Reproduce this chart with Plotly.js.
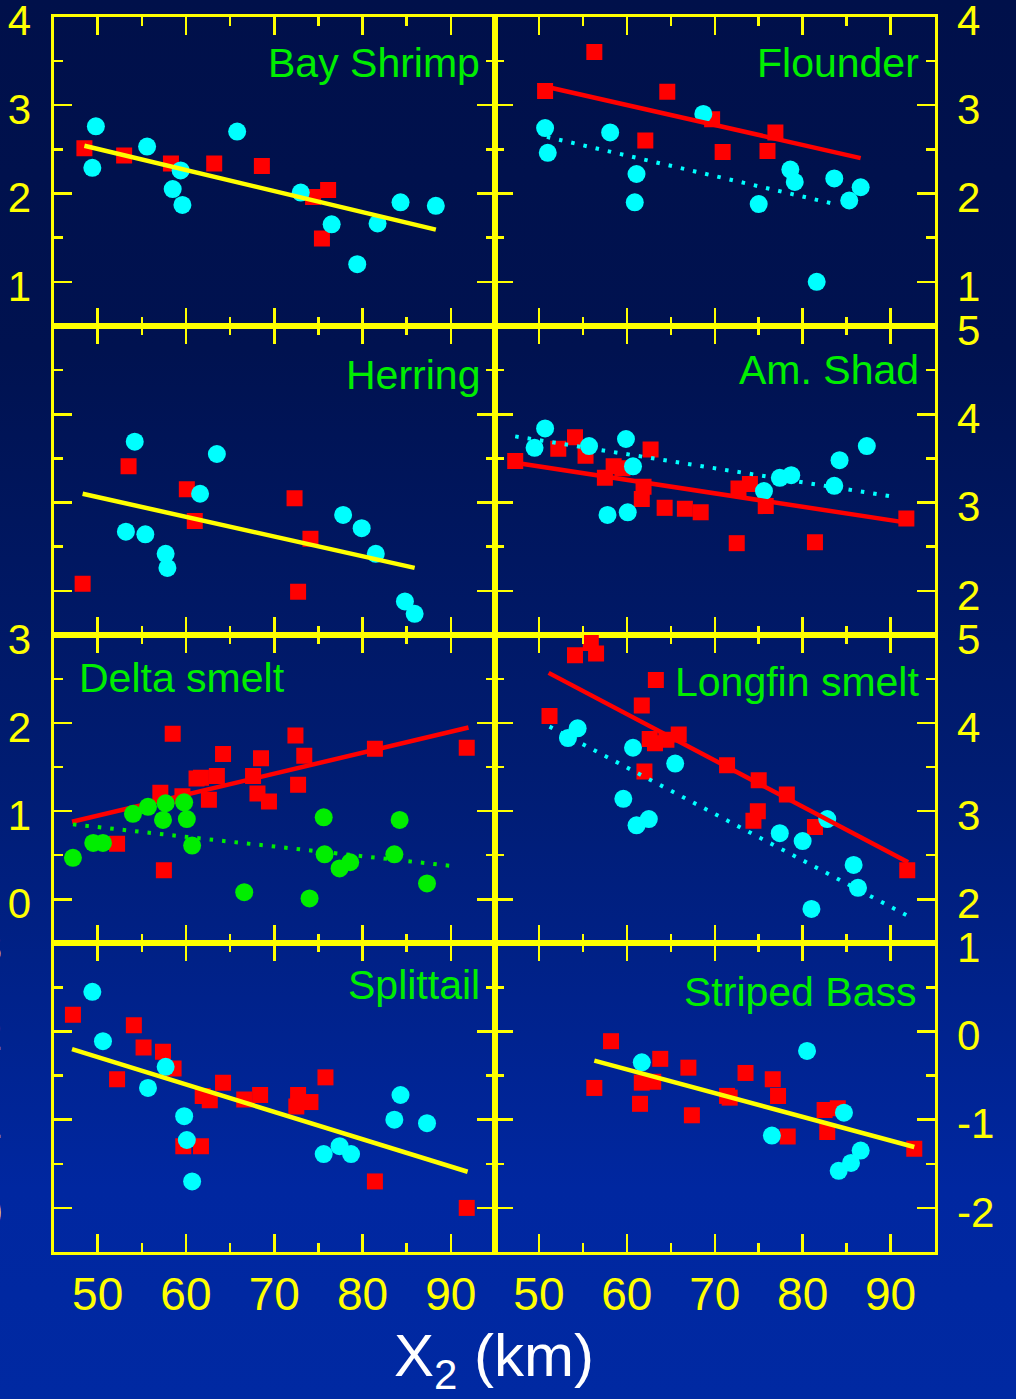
<!DOCTYPE html>
<html><head><meta charset="utf-8">
<script src="https://cdn.plot.ly/plotly-3.0.1.min.js"></script>
<style>
html,body{margin:0;padding:0;background:#00104a;}
#chart{width:1016px;height:1399px;background:linear-gradient(to bottom,#00104a 0%,#001250 25%,#001c72 55%,#0027a0 85%,#0029a2 100%);}
</style></head><body><div id="chart"></div>
<script>
// ---------------- DATA ----------------
const panelNames = ['Bay Shrimp','Flounder','Herring','Am. Shad','Delta smelt','Longfin smelt','Splittail','Striped Bass'];
const xTickLabels = ['50','60','70','80','90'];
const xTickVals = [50,60,70,80,90];

const bayShrimpRedX = [48.5,53.0,58.3,63.2,68.6,74.4,76.1,75.4];
const bayShrimpRedY = [2.51,2.43,2.34,2.34,2.31,1.96,2.04,1.49];
const bayShrimpCyanX = [49.8,49.4,55.6,59.4,58.5,59.6,65.8,73.0,76.5,79.4,81.7,84.3,88.3];
const bayShrimpCyanY = [2.76,2.29,2.53,2.26,2.05,1.87,2.70,2.01,1.65,1.20,1.66,1.90,1.86];
const bayShrimpFitX = [48.5,88.3];
const bayShrimpFitY = [2.54,1.59];

const flounderRedX = [50.7,56.3,64.6,62.1,69.7,70.9,76.9,76.0];
const flounderRedY = [3.16,3.60,3.15,2.60,2.84,2.47,2.69,2.48];
const flounderCyanX = [50.7,51.0,58.1,61.1,60.9,68.7,75.0,78.6,79.1,83.6,85.3,86.6,81.6];
const flounderCyanY = [2.74,2.46,2.69,2.22,1.90,2.90,1.88,2.27,2.13,2.17,1.92,2.07,1.00];
const flounderRedFitX = [50.7,86.6];
const flounderRedFitY = [3.21,2.40];
const flounderCyanFitX = [50.9,84.1];
const flounderCyanFitY = [2.64,1.87];

const herringRedX = [48.3,53.5,60.1,61.0,72.3,74.1,72.7];
const herringRedY = [2.08,3.41,3.15,2.79,3.05,2.59,1.99];
const herringCyanX = [54.2,63.5,61.6,53.2,55.4,57.7,57.9,77.8,79.9,81.5,84.8,85.9];
const herringCyanY = [3.69,3.55,3.10,2.67,2.64,2.42,2.26,2.86,2.71,2.42,1.88,1.74];
const herringFitX = [48.3,85.9];
const herringFitY = [3.10,2.26];

const shadRedX = [47.3,52.2,54.1,55.3,57.5,58.5,59.5,62.7,61.9,61.7,64.3,66.6,68.4,72.7,74.0,72.5,75.8,81.4,91.8];
const shadRedY = [3.47,3.61,3.74,3.53,3.28,3.41,3.39,3.60,3.18,3.04,2.94,2.93,2.89,3.16,3.21,2.54,2.96,2.55,2.82];
const shadCyanX = [50.7,49.5,55.7,59.9,60.7,57.8,60.1,75.6,77.4,78.7,83.6,84.2,87.3];
const shadCyanY = [3.84,3.62,3.64,3.72,3.41,2.86,2.89,3.13,3.28,3.31,3.19,3.48,3.64];
const shadRedFitX = [47.3,92.0];
const shadRedFitY = [3.45,2.77];
const shadCyanFitX = [47.3,90.7];
const shadCyanFitY = [3.75,3.06];

const deltaRedX = [52.2,57.5,58.5,57.1,59.6,61.2,61.7,63.5,62.6,64.2,67.6,68.5,68.1,69.4,72.4,73.4,72.7,81.4,91.8];
const deltaRedY = [0.63,0.33,1.88,1.21,1.17,1.37,1.38,1.40,1.13,1.65,1.40,1.60,1.20,1.11,1.86,1.63,1.30,1.71,1.72];
const deltaGreenX = [47.2,49.5,50.6,54.0,55.7,57.7,57.4,59.8,60.1,60.7,66.6,74.0,75.6,75.7,77.4,78.6,83.6,84.2,87.3];
const deltaGreenY = [0.47,0.64,0.64,0.97,1.05,1.09,0.90,1.10,0.91,0.61,0.08,0.01,0.93,0.51,0.35,0.42,0.51,0.90,0.18];
const deltaRedFitX = [47.1,92.0];
const deltaRedFitY = [0.88,1.95];
const deltaGreenFitX = [47.2,90.8];
const deltaGreenFitY = [0.85,0.37];

const longfinRedX = [51.2,54.1,55.9,56.5,63.3,61.7,62.6,63.2,64.5,65.9,62.0,71.4,75.0,78.2,74.9,74.4,81.4,91.9];
const longfinRedY = [4.08,4.77,4.91,4.79,4.49,4.20,3.82,3.77,3.81,3.87,3.45,3.52,3.35,3.19,3.00,2.89,2.82,2.33];
const longfinCyanX = [54.4,53.3,60.7,65.5,59.6,61.1,62.5,77.4,80.0,82.8,85.8,86.3,81.0];
const longfinCyanY = [3.94,3.83,3.72,3.54,3.14,2.84,2.91,2.75,2.66,2.91,2.39,2.13,1.89];
const longfinRedFitX = [51.1,92.0];
const longfinRedFitY = [4.57,2.42];
const longfinCyanFitX = [51.2,91.8];
const longfinCyanFitY = [3.96,1.82];

const splittailRedX = [47.2,54.1,55.2,57.4,58.6,52.2,64.2,61.9,62.7,66.6,68.4,72.7,72.5,74.1,75.8,59.7,61.7,81.4,91.8];
const splittailRedY = [2.19,2.07,1.82,1.77,1.58,1.46,1.42,1.27,1.22,1.23,1.28,1.28,1.15,1.20,1.48,0.70,0.70,0.30,0.00];
const splittailCyanX = [49.4,50.6,57.7,55.7,59.8,60.1,60.7,75.6,77.4,78.7,83.6,84.3,87.3];
const splittailCyanY = [2.45,1.89,1.60,1.36,1.04,0.77,0.30,0.61,0.70,0.61,1.00,1.28,0.96];
const splittailFitX = [47.1,91.9];
const splittailFitY = [1.80,0.41];

const bassRedX = [58.2,56.3,63.8,61.7,63.0,61.5,67.0,67.4,71.4,71.7,73.5,76.6,77.2,78.3,82.5,84.0,82.8,92.7];
const bassRedY = [-0.11,-0.64,-0.31,-0.58,-0.57,-0.82,-0.41,-0.95,-0.73,-0.75,-0.47,-0.54,-0.73,-1.19,-0.89,-0.87,-1.14,-1.33];
const bassCyanX = [61.7,80.5,76.5,84.7,86.6,85.5,84.1];
const bassCyanY = [-0.35,-0.22,-1.18,-0.92,-1.35,-1.49,-1.58];
const bassFitX = [56.3,92.7];
const bassFitY = [-0.33,-1.31];
const bassTickVals = [-2,-1,0,1];
const bassTickText = ['-2','-1','0','1'];

const yRanges = [[0.5,4],[0.5,4],[1.5,5],[1.5,5],[-0.5,3],[1.5,5],[-0.5,3],[-2.5,1]];

// ---------------- STYLE / LAYOUT ----------------
const YEL = '#ffff00', RED = '#ff0000', CYAN = '#00ffff', GREEN = '#00ee00';
const FONT = 'Liberation Sans, Arial, Helvetica, sans-serif';
const W = 1016, H = 1399;
const colEdges = [[53.5,495],[495,934.5]];
const rowEdges = [[16.7,326],[326,635],[635,943.3],[943.3,1252]];

function sq(x,y,i){return {x:x,y:y,type:'scatter',mode:'markers',marker:{symbol:'square',size:16,color:RED},xaxis:'x'+(i+1),yaxis:'y'+(i+1),hoverinfo:'skip'};}
function ci(x,y,i,c){return {x:x,y:y,type:'scatter',mode:'markers',marker:{symbol:'circle',size:18,color:c||CYAN},xaxis:'x'+(i+1),yaxis:'y'+(i+1),hoverinfo:'skip'};}
function ln(x,y,i,c){return {x:x,y:y,type:'scatter',mode:'lines',line:{color:c,width:4.5},xaxis:'x'+(i+1),yaxis:'y'+(i+1),hoverinfo:'skip'};}
function dl(x,y,i,c){return {x:x,y:y,type:'scatter',mode:'lines',line:{color:c,width:4,dash:'3.5px,9px'},xaxis:'x'+(i+1),yaxis:'y'+(i+1),hoverinfo:'skip'};}

const data = [
  sq(bayShrimpRedX,bayShrimpRedY,0), ci(bayShrimpCyanX,bayShrimpCyanY,0), ln(bayShrimpFitX,bayShrimpFitY,0,YEL),
  sq(flounderRedX,flounderRedY,1), ci(flounderCyanX,flounderCyanY,1), ln(flounderRedFitX,flounderRedFitY,1,RED), dl(flounderCyanFitX,flounderCyanFitY,1,CYAN),
  sq(herringRedX,herringRedY,2), ci(herringCyanX,herringCyanY,2), ln(herringFitX,herringFitY,2,YEL),
  sq(shadRedX,shadRedY,3), ci(shadCyanX,shadCyanY,3), ln(shadRedFitX,shadRedFitY,3,RED), dl(shadCyanFitX,shadCyanFitY,3,CYAN),
  sq(deltaRedX,deltaRedY,4), ln(deltaRedFitX,deltaRedFitY,4,RED), ci(deltaGreenX,deltaGreenY,4,GREEN), dl(deltaGreenFitX,deltaGreenFitY,4,GREEN),
  sq(longfinRedX,longfinRedY,5), ci(longfinCyanX,longfinCyanY,5), ln(longfinRedFitX,longfinRedFitY,5,RED), dl(longfinCyanFitX,longfinCyanFitY,5,CYAN),
  sq(splittailRedX,splittailRedY,6), ci(splittailCyanX,splittailCyanY,6), ln(splittailFitX,splittailFitY,6,YEL),
  sq(bassRedX,bassRedY,7), ci(bassCyanX,bassCyanY,7), ln(bassFitX,bassFitY,7,YEL)
];

const layout = {
  width: W, height: H,
  margin: {l:0,r:0,t:0,b:0,pad:0},
  paper_bgcolor: 'rgba(0,0,0,0)',
  plot_bgcolor: 'rgba(0,0,0,0)',
  showlegend: false,
  font: {family: FONT, color: YEL},
  annotations: []
};

for (let i = 0; i < 8; i++) {
  const row = Math.floor(i/2), col = i % 2, n = i + 1;
  const xs = colEdges[col], ys = rowEdges[row];
  layout['xaxis' + n] = {
    domain: [xs[0]/W, xs[1]/W], range: [45,95], anchor: 'y' + n,
    showline: true, linecolor: YEL, linewidth: 3, mirror: 'ticks',
    ticks: 'inside', ticklen: 18, tickwidth: 2.5, tickcolor: YEL,
    tickmode: 'array', tickvals: xTickVals, ticktext: xTickLabels,
    minor: {ticks: 'inside', ticklen: 9, tickwidth: 2.5, tickcolor: YEL, tickmode: 'linear', tick0: 45, dtick: 5},
    showgrid: false, zeroline: false, fixedrange: true,
    showticklabels: row === 3, ticklabelstandoff: 0, ticklabeloverflow: 'allow',
    tickfont: {family: FONT, size: 46, color: YEL}
  };
  const ya = {
    domain: [1 - ys[1]/H, 1 - ys[0]/H], range: yRanges[i], anchor: 'x' + n,
    side: col === 0 ? 'left' : 'right',
    showline: true, linecolor: YEL, linewidth: 3, mirror: 'ticks',
    ticks: 'inside', ticklen: 18, tickwidth: 2.5, tickcolor: YEL,
    tickmode: 'linear', tick0: 0, dtick: 1,
    minor: {ticks: 'inside', ticklen: 9, tickwidth: 2.5, tickcolor: YEL, tickmode: 'linear', tick0: 0.5, dtick: 1},
    showgrid: false, zeroline: false, fixedrange: true,
    showticklabels: i !== 2, ticklabelstandoff: 11, ticklabeloverflow: 'allow', ticklabelshift: 4,
    tickfont: {family: FONT, size: 42, color: YEL}
  };
  if (i === 6) ya.ticklabelstandoff = 40;
  if (i === 7) { ya.tickmode = 'array'; ya.tickvals = bassTickVals; ya.ticktext = bassTickText; }
  layout['yaxis' + n] = ya;
}

// panel titles (pixel anchors -> paper coords)
const titlePos = [[482,63,'right'],[921,63,'right'],[482,375,'right'],[921,370,'right'],[77,678,'left'],[921,682,'right'],[482,985,'right'],[918,992,'right']];
for (let i = 0; i < 8; i++) {
  layout.annotations.push({
    text: panelNames[i], xref: 'paper', yref: 'paper',
    x: titlePos[i][0]/W, y: 1 - titlePos[i][1]/H,
    xanchor: titlePos[i][2], yanchor: 'middle', showarrow: false,
    font: {family: FONT, size: 41, color: GREEN}
  });
}
layout.annotations.push({
  text: 'X<sub>2</sub> (km)', xref: 'paper', yref: 'paper',
  x: 494/W, y: 1 - 1360/H, xanchor: 'center', yanchor: 'middle', showarrow: false,
  font: {family: FONT, size: 60, color: '#ffffff'}
});

Plotly.newPlot('chart', data, layout, {staticPlot: true, displayModeBar: false});
</script></body></html>
